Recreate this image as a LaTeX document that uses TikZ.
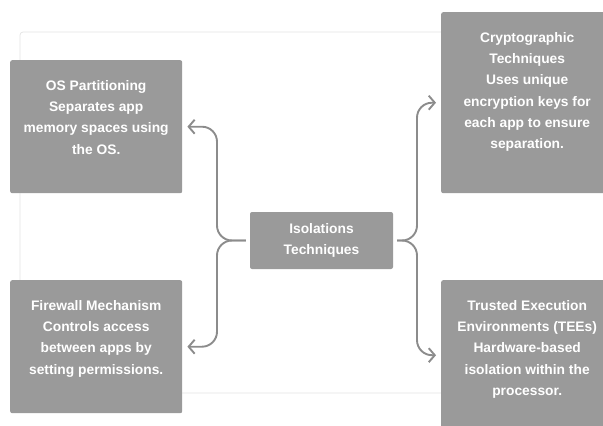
\documentclass[tikz,border=0pt]{standalone}
\usepackage{fontspec}
\setmainfont{Liberation Sans}
\usetikzlibrary{arrows.meta}

\definecolor{cardgray}{HTML}{9A9A9A}
\definecolor{linkgray}{HTML}{8C8C8C}
\definecolor{framegray}{HTML}{E4E4E4}

\newcommand{\cardbody}[2]{\parbox[t][#1][t]{159pt}{\centering\vspace*{20pt}#2}}

\begin{document}
\begin{tikzpicture}[x=1pt, y=-1pt,
      card/.style={fill=cardgray, rounded corners=2pt, anchor=north west,
        inner xsep=6.5pt, inner ysep=0pt, text=white,
        font=\fontsize{13.8pt}{21.3pt}\selectfont\bfseries},
      hub/.style={fill=cardgray, rounded corners=2pt, text=white, align=center,
        minimum width=143pt, minimum height=57pt, inner sep=0pt,
        font=\fontsize{13.8pt}{21pt}\selectfont\bfseries},
      link/.style={draw=linkgray, line width=1.9pt, rounded corners=15pt,
        shorten <=4pt, shorten >=5pt,
        -{Straight Barb[length=6pt, width=14pt, line width=1.9pt]}}
    ]
    \useasboundingbox (0,0) rectangle (603,426);
    \draw[framegray, line width=0.8pt, rounded corners=3pt] (20,32) rectangle (640,393);

    \node[card] (os) at (10,60) {\cardbody{133pt}{OS Partitioning\\
        Separates app\\ memory spaces using\\ the OS.}};
    \node[card] (firewall) at (10,280) {\cardbody{133pt}{Firewall Mechanism\\
        Controls access\\ between apps by\\ setting permissions.}};
    \node[card] (crypto) at (441,12) {\cardbody{181pt}{Cryptographic\\
        Techniques\\ Uses unique\\ encryption keys for\\ each app to ensure\\ separation.}};
    \node[card] (tee) at (441,280) {\cardbody{150pt}{Trusted Execution\\
        Environments (TEEs)\\ Hardware-based\\ isolation within the\\ processor.}};

    \node[hub] (isolation) at (321.5,240.5) {Isolations\\ Techniques};

    \coordinate (lspine) at (217,240.5);
    \coordinate (rspine) at (417,240.5);

    \draw[link] (isolation.west) -- (lspine) |- (os.east);
    \draw[link] (isolation.west) -- (lspine) |- (firewall.east);
    \draw[link] (isolation.east) -- (rspine) |- (crypto.west);
    \draw[link] (isolation.east) -- (rspine) |- (tee.west);
\end{tikzpicture}
\end{document}
